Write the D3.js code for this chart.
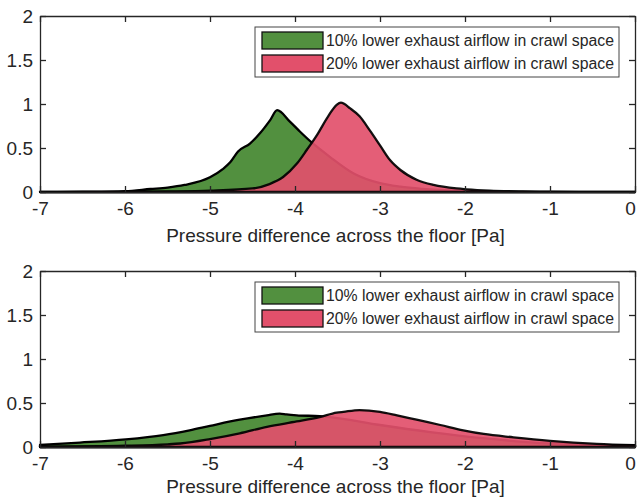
<!DOCTYPE html>
<html>
<head>
<meta charset="utf-8">
<script src="https://cdn.jsdelivr.net/npm/d3@7"></script>
<style>
  body { margin: 0; background: #fff; }
  text { font-family: "Liberation Sans", Arial, sans-serif; fill: #262626; }
</style>
</head>
<body>
<div id="chart"></div>
<script>
// ---- data ----
const xTicks = [-7, -6, -5, -4, -3, -2, -1, 0];
const yTicks = [0, 0.5, 1, 1.5, 2];
const legendLabels = [
  "10% lower exhaust airflow in crawl space",
  "20% lower exhaust airflow in crawl space"
];
const xLabel = "Pressure difference across the floor [Pa]";

// top panel
const topGreenX = [-7, -6.5, -6, -5.7, -5.5, -5.3, -5.0, -4.85, -4.76, -4.67, -4.53, -4.41, -4.29, -4.21, -4.06, -3.94, -3.80, -3.59, -3.31, -3.0, -2.76, -2.5, -2.0, -1.5, -1, 0];
const topGreenY = [0, 0.003, 0.01, 0.034, 0.05, 0.08, 0.167, 0.26, 0.34, 0.46, 0.55, 0.67, 0.82, 0.93, 0.80, 0.685, 0.56, 0.40, 0.21, 0.10, 0.06, 0.035, 0.012, 0.004, 0.001, 0];
const topPinkX = [-7, -6, -5.5, -5, -4.5, -4.3, -4.14, -3.98, -3.86, -3.74, -3.61, -3.51, -3.46, -3.35, -3.24, -3.12, -3.0, -2.88, -2.76, -2.57, -2.37, -2.10, -1.98, -1.71, -1.32, -1, 0];
const topPinkY = [0, 0.002, 0.006, 0.015, 0.04, 0.09, 0.17, 0.32, 0.48, 0.65, 0.86, 0.99, 1.015, 0.95, 0.86, 0.70, 0.53, 0.36, 0.25, 0.14, 0.08, 0.04, 0.03, 0.015, 0.006, 0.003, 0];

// bottom panel
const botGreenX = [-7, -6.53, -5.99, -5.55, -5.24, -5.0, -4.65, -4.33, -4.18, -4.1, -3.98, -3.71, -3.59, -3.0, -2.41, -1.79, -1.0, -0.5, 0];
const botGreenY = [0.023, 0.05, 0.087, 0.136, 0.19, 0.24, 0.31, 0.36, 0.38, 0.37, 0.36, 0.35, 0.34, 0.25, 0.17, 0.10, 0.04, 0.025, 0.02];
const botPinkX = [-7, -6, -5.5, -5.35, -5.0, -4.65, -4.33, -3.98, -3.71, -3.51, -3.43, -3.24, -3.0, -2.80, -2.57, -2.29, -2.02, -1.78, -1.43, -1.0, -0.45, 0];
const botPinkY = [0.005, 0.015, 0.03, 0.04, 0.09, 0.155, 0.23, 0.29, 0.34, 0.39, 0.40, 0.42, 0.40, 0.36, 0.31, 0.25, 0.19, 0.148, 0.11, 0.07, 0.035, 0.02];

const green = "#52903f";
const pink = "#e2506b";

const width = 637;
const height = 497;
const left = 40, right = 635, plotH = 176;

const svg = d3.select("#chart").append("svg")
  .attr("width", width)
  .attr("height", height);

const zip = (xs, ys) => xs.map((x, i) => ({ x, y: ys[i] }));
const fmtX = (d) => (d < 0 ? "-" + Math.abs(d) : String(d));
const fmtY = (d) => String(d);

const drawPanel = (top, series, labelY) => {
  const x = d3.scaleLinear().domain([-7, 0]).range([left, right]);
  const y = d3.scaleLinear().domain([0, 2]).range([top + plotH, top]);
  const g = svg.append("g");

  const area = d3.area()
    .curve(d3.curveMonotoneX)
    .x((d) => x(d.x))
    .y0(y(0))
    .y1((d) => y(d.y));

  series.forEach((s) => {
    g.append("path")
      .datum(s.data)
      .attr("d", area)
      .attr("fill", s.color)
      .attr("fill-opacity", s.opacity)
      .attr("stroke", "#000")
      .attr("stroke-opacity", s.opacity)
      .attr("stroke-width", 2.3)
      .attr("stroke-linejoin", "round");
  });

  // axes, MATLAB style: box with ticks inside
  const axBottom = g.append("g")
    .attr("transform", `translate(0,${top + plotH})`)
    .call(d3.axisBottom(x).tickValues(xTicks).tickSizeInner(-6).tickSizeOuter(0).tickPadding(10).tickFormat(fmtX));
  const axTop = g.append("g")
    .attr("transform", `translate(0,${top})`)
    .call(d3.axisTop(x).tickValues(xTicks).tickSizeInner(-6).tickSizeOuter(0).tickFormat(""));
  const axLeft = g.append("g")
    .attr("transform", `translate(${left},0)`)
    .call(d3.axisLeft(y).tickValues(yTicks).tickSizeInner(-6).tickSizeOuter(0).tickPadding(7).tickFormat(fmtY));
  const axRight = g.append("g")
    .attr("transform", `translate(${right},0)`)
    .call(d3.axisRight(y).tickValues(yTicks).tickSizeInner(-6).tickSizeOuter(0).tickFormat(""));

  [axBottom, axTop, axLeft, axRight].forEach((a) => {
    a.select(".domain").attr("stroke", "#262626").attr("stroke-width", 1.3);
    a.selectAll(".tick line").attr("stroke", "#262626").attr("stroke-width", 1.3);
    a.selectAll(".tick text")
      .attr("font-size", 19)
      .attr("font-family", "'Liberation Sans', Arial, sans-serif")
      .attr("fill", "#262626");
  });
  // keep the last x label ("0") inside the window
  axBottom.selectAll(".tick text").filter((d) => d === 0).attr("dx", -5);

  g.append("text")
    .attr("x", (left + right) / 2 - 2)
    .attr("y", labelY)
    .attr("text-anchor", "middle")
    .attr("font-size", 19)
    .text(xLabel);

  // legend
  const lg = g.append("g").attr("transform", `translate(255,${top + 11})`);
  lg.append("rect")
    .attr("x", 0).attr("y", 0)
    .attr("width", 364).attr("height", 50)
    .attr("fill", "#fff")
    .attr("stroke", "#444")
    .attr("stroke-width", 1);
  series.forEach((s, i) => {
    const yy = 5 + i * 23;
    lg.append("rect")
      .attr("x", 7).attr("y", yy)
      .attr("width", 61).attr("height", 17)
      .attr("fill", s.color)
      .attr("stroke", "#111")
      .attr("stroke-width", 1.3);
    lg.append("text")
      .attr("x", 71).attr("y", yy + 14)
      .attr("font-size", 15.8)
      .text(legendLabels[i]);
  });
};

drawPanel(16, [
  { data: zip(topGreenX, topGreenY), color: green, opacity: 1 },
  { data: zip(topPinkX, topPinkY), color: pink, opacity: 0.92 }
], 242);
drawPanel(271, [
  { data: zip(botGreenX, botGreenY), color: green, opacity: 1 },
  { data: zip(botPinkX, botPinkY), color: pink, opacity: 0.92 }
], 493);
</script>
</body>
</html>
